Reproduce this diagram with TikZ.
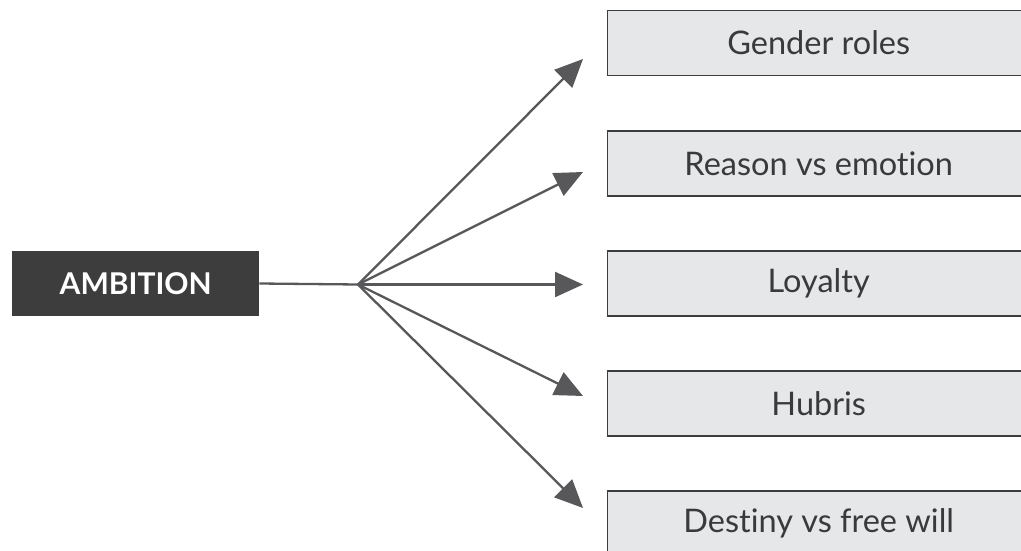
\documentclass[tikz,border=0pt]{standalone}
\usepackage{fontspec}
\setmainfont{Lato}[Ligatures={NoCommon}]
\usetikzlibrary{arrows.meta}
\definecolor{dark}{HTML}{3D3D3D}
\definecolor{linec}{HTML}{58585A}
\definecolor{boxfill}{HTML}{E6E7E8}
\definecolor{txt}{HTML}{3A3A3A}
\tikzset{
  mainbox/.style={fill=dark, draw=none, text=white, font=\fontsize{30}{33}\selectfont\bfseries,
    minimum width=247pt, minimum height=65pt, inner sep=0pt, anchor=west},
  themebox/.style={fill=boxfill, draw=dark, line width=1.4pt, text=txt,
    font=\fontsize{32.5}{35}\selectfont, minimum width=422pt, minimum height=65pt,
    inner sep=0pt, anchor=west},
  link/.style={draw=linec, line width=2.3pt},
  arr/.style={link, -{Triangle[length=28pt,width=25pt]}}
}
\begin{document}
\begin{tikzpicture}[x=1pt,y=-1pt]
\useasboundingbox (0,0) rectangle (1021,551);
\node[mainbox] (amb) at (12,283.5) {AMBITION};
\coordinate (hub) at (358,284.5);
\node[themebox] (t1) at (607,43) {Gender roles};
\node[themebox] (t2) at (607,163.5) {Reason vs emotion};
\node[themebox] (t3) at (607,283.5) {Loyalty};
\node[themebox] (t4) at (607,403.5) {Hubris};
\node[themebox] (t5) at (607,523.5) {Destiny vs free will};
\coordinate (e1) at (583,59);
\coordinate (e2) at (583,172);
\coordinate (e3) at (583,284.5);
\coordinate (e4) at (583,396);
\coordinate (e5) at (583,508);
\draw[link] (amb.east) -- (hub);
\draw[arr] (hub) -- (e1);
\draw[arr] (hub) -- (e2);
\draw[arr] (hub) -- (e3);
\draw[arr] (hub) -- (e4);
\draw[arr] (hub) -- (e5);
\end{tikzpicture}
\end{document}
